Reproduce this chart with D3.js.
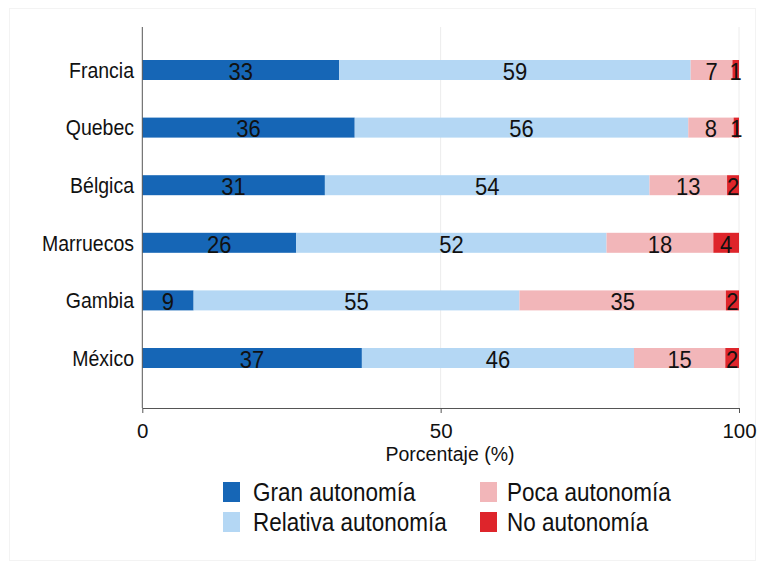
<!DOCTYPE html>
<html>
<head>
<meta charset="utf-8">
<script src="https://cdn.jsdelivr.net/npm/d3@7"></script>
<style>
  body { margin: 0; background: #fff; }
  svg text {
    font-family: 'Liberation Sans', Arial, sans-serif;
    fill: #111;
    transform-box: fill-box;
    transform-origin: 50% 50%;
    transform: scaleY(1.12);
  }
  svg text.flat { transform: none; }
</style>
</head>
<body>
<script>
const countries = ['Francia', 'Quebec', 'Bélgica', 'Marruecos', 'Gambia', 'México']
const gran = [33.0, 35.6, 30.6, 25.8, 8.6, 36.8]
const relativa = [58.9, 55.9, 54.4, 52.0, 54.6, 45.6]
const poca = [7.0, 7.6, 13.0, 17.9, 34.6, 15.3]
const noAut = [1.1, 0.9, 2.0, 4.3, 2.2, 2.3]
const xTicks = [0, 50, 100]
const seriesNames = ['Gran autonomía', 'Relativa autonomía', 'Poca autonomía', 'No autonomía']
const keys = ['gran', 'relativa', 'poca', 'noAut']

const colors = {
  gran: '#1666b6',
  relativa: '#b4d7f4',
  poca: '#f2b6b9',
  noAut: '#de252b',
  axis: '#555',
  grid: '#ececec'
}

const width = 763
const height = 563

const rows = countries.map((c, i) => ({
  country: c,
  gran: gran[i],
  relativa: relativa[i],
  poca: poca[i],
  noAut: noAut[i]
}))

const svg = d3.select('body').append('svg')
  .attr('width', width)
  .attr('height', height)

// faint outer frame
svg.append('rect')
  .attr('x', 9.5).attr('y', 8.5)
  .attr('width', 746).attr('height', 552)
  .attr('fill', 'none')
  .attr('stroke', '#f3f3f3')

const x = d3.scaleLinear().domain([0, 100]).range([142.3, 739])
const y = d3.scalePoint().domain(countries).range([70, 358])
const barH = 20
const plotTop = 27
const plotBottom = 408

// grid lines
svg.append('g')
  .selectAll('line')
  .data(xTicks.filter(d => d > 0))
  .enter()
  .append('line')
  .attr('x1', d => x(d)).attr('x2', d => x(d))
  .attr('y1', plotTop).attr('y2', plotBottom)
  .attr('stroke', colors.grid)
  .attr('stroke-width', 1)

const stacked = d3.stack().keys(keys)(rows)

// bars
const layers = svg.append('g')
  .selectAll('g')
  .data(stacked)
  .enter()
  .append('g')
  .attr('fill', d => colors[d.key])

layers.selectAll('rect')
  .data(d => d)
  .enter()
  .append('rect')
  .attr('x', d => x(d[0]))
  .attr('width', d => x(d[1]) - x(d[0]))
  .attr('y', d => y(d.data.country) - barH / 2)
  .attr('height', barH)

// bar labels
layers.selectAll('text')
  .data(d => d)
  .enter()
  .append('text')
  .attr('x', d => (x(d[0]) + x(d[1])) / 2)
  .attr('y', d => y(d.data.country) + 1)
  .attr('dy', '0.36em')
  .attr('text-anchor', 'middle')
  .style('font-size', '22px')
  .text(d => Math.round(d[1] - d[0]))

// y axis line
svg.append('line')
  .attr('x1', x(0)).attr('x2', x(0))
  .attr('y1', plotTop).attr('y2', plotBottom)
  .attr('stroke', colors.axis)
  .attr('stroke-width', 1)

// y labels
svg.append('g')
  .selectAll('text')
  .data(countries)
  .enter()
  .append('text')
  .attr('x', 134)
  .attr('y', d => y(d))
  .attr('dy', '0.36em')
  .attr('text-anchor', 'end')
  .style('font-size', '19.5px')
  .text(d => d)

// x axis
const xAxis = d3.axisBottom(x).tickValues(xTicks).tickSize(5).tickPadding(10).tickSizeOuter(0)
const gx = svg.append('g')
  .attr('transform', `translate(0, ${plotBottom})`)
  .call(xAxis)
gx.select('.domain').attr('stroke', colors.axis)
gx.selectAll('.tick line').attr('stroke', colors.axis)
gx.selectAll('.tick text')
  .attr('class', 'flat')
  .style('font-size', '20.5px')
  .attr('fill', '#111')

svg.append('text')
  .attr('class', 'flat')
  .attr('x', 450)
  .attr('y', 461)
  .attr('text-anchor', 'middle')
  .style('font-size', '19.5px')
  .text('Porcentaje (%)')

// legend
const legendPos = [
  { sx: 223, tx: 253, cy: 492 },
  { sx: 223, tx: 253, cy: 522 },
  { sx: 480, tx: 507, cy: 492 },
  { sx: 480, tx: 507, cy: 522 }
]
const legend = svg.append('g')
  .selectAll('g')
  .data(keys)
  .enter()
  .append('g')

legend.append('rect')
  .attr('x', (d, i) => legendPos[i].sx)
  .attr('y', (d, i) => legendPos[i].cy - 10)
  .attr('width', 17)
  .attr('height', 20)
  .attr('fill', d => colors[d])

legend.append('text')
  .attr('x', (d, i) => legendPos[i].tx)
  .attr('y', (d, i) => legendPos[i].cy)
  .attr('dy', '0.36em')
  .style('font-size', '22.5px')
  .text((d, i) => seriesNames[i])
</script>
</body>
</html>
